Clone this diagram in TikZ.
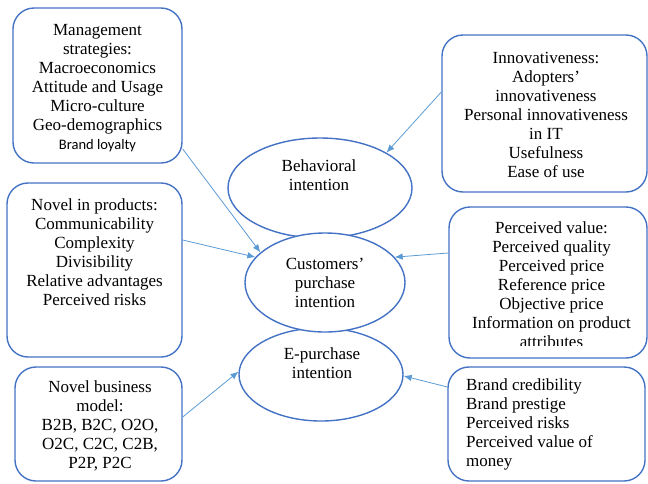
\documentclass[tikz,border=0pt]{standalone}
\usepackage{fontspec}
\setmainfont{Liberation Serif}
\newfontfamily\carlito{Carlito}
\usetikzlibrary{arrows.meta,shapes.geometric}
\definecolor{boxblue}{HTML}{4472C4}
\definecolor{arrowblue}{HTML}{5B9BD5}
\tikzset{
  roundbox/.style={draw=boxblue, line width=1.4pt, rounded corners=21pt, inner sep=0pt, shape=rectangle},
  oval/.style={draw=boxblue, fill=white, line width=1.4pt, ellipse, inner sep=0pt},
  txt/.style={align=center, inner sep=0pt, font=\fontsize{17}{19}\selectfont},
  link/.style={draw=arrowblue, line width=0.8pt, -{Latex[length=8pt,width=6.5pt]}}
}
\begin{document}
\begin{tikzpicture}[x=1pt,y=-1pt]
\useasboundingbox (0,0) rectangle (648,483);
% boxes
\node[roundbox, minimum width=169pt, minimum height=155pt] (b1) at (97.5,85.5) {};
\node[roundbox, minimum width=205pt, minimum height=157pt] (b2) at (544.5,113.5) {};
\node[roundbox, minimum width=175pt, minimum height=174pt] (b3) at (94.5,270) {};
\node[roundbox, minimum width=198pt, minimum height=151pt] (b4) at (548,282.5) {};
\node[roundbox, minimum width=167pt, minimum height=114pt] (b5) at (98.5,424) {};
\node[roundbox, minimum width=197pt, minimum height=114pt] (b6) at (546.5,424) {};
% box texts
\node[txt] (t1) at (97.5,88) {Management\\strategies:\\Macroeconomics\\Attitude and Usage\\Micro-culture\\Geo-demographics\\{\carlito\fontsize{14.5}{19}\selectfont Brand loyalty}};
\node[txt] (t2) at (546,115) {Innovativeness:\\Adopters’\\innovativeness\\Personal innovativeness\\in IT\\Usefulness\\Ease of use};
\node[txt] (t3) at (94.5,252.5) {Novel in products:\\Communicability\\Complexity\\Divisibility\\Relative advantages\\Perceived risks};
\begin{scope}
\clip (440,200) rectangle (648,345);
\node[txt] (t4) at (551.5,285) {Perceived value:\\Perceived quality\\Perceived price\\Reference price\\Objective price\\Information on product\\attributes};
\end{scope}
\node[txt] (t5) at (100,425.5) {Novel business\\model:\\B2B, B2C, O2O,\\O2C, C2C, C2B,\\P2P, P2C};
\node[txt, align=left, anchor=west] (t6) at (466,424.5) {Brand credibility\\Brand prestige\\Perceived risks\\Perceived value of\\money};
% ellipses
\node[oval, minimum width=184pt, minimum height=100pt] (bi) at (320,188) {};
\node[oval, minimum width=164pt, minimum height=93pt] (epi) at (321,374.5) {};
\node[oval, minimum width=160pt, minimum height=99pt] (cpi) at (325,282.5) {};
\node[txt] (tbi) at (319,175) {Behavioral\\intention};
\node[txt] (tcpi) at (325,283.3) {Customers’\\purchase\\intention};
\node[txt] (tepi) at (322,363.3) {E-purchase\\intention};
% connectors
\draw[link] ([yshift=-63.5pt]b1.east) -- (cpi.155);
\draw[link] ([yshift=30pt]b3.east) -- (cpi.160);
\draw[link] ([yshift=21.5pt]b2.west) -- (bi.28);
\draw[link] ([yshift=29.5pt]b4.west) -- (cpi.20);
\draw[link] ([yshift=7pt]b5.east) -- (epi.178);
\draw[link] ([yshift=37pt]b6.west) -- (epi.-1);
\end{tikzpicture}
\end{document}
